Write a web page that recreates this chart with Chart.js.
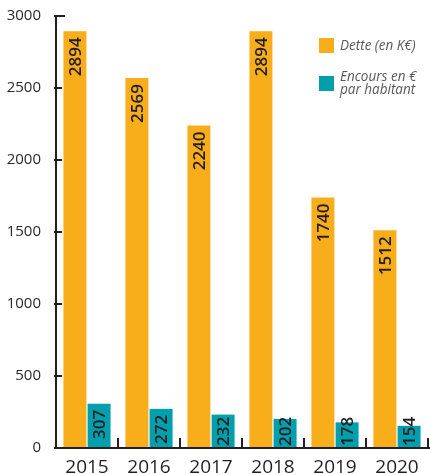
<!DOCTYPE html>
<html>
<head>
<meta charset="utf-8">
<script src="https://cdn.jsdelivr.net/npm/chart.js@4/dist/chart.umd.min.js"></script>
<style>
  html, body { margin: 0; padding: 0; background: #ffffff; }
  #wrap { width: 430px; height: 474px; position: relative; }
</style>
</head>
<body>
<div id="wrap"><canvas id="c" width="430" height="474"></canvas></div>
<script>
const years = ['2015', '2016', '2017', '2018', '2019', '2020'];
const dette = [2894, 2569, 2240, 2894, 1740, 1512];
const encours = [307, 272, 232, 202, 178, 154];
const yTicks = [0, 500, 1000, 1500, 2000, 2500, 3000];
const legendLabels = [['Dette (en K€)'], ['Encours en €', 'par habitant']];

const ORANGE = '#F8AE1A';
const TEAL = '#009FAE';
const INK = '#231f20';

const axesPlugin = {
  id: 'customAxes',
  afterDatasetsDraw(chart) {
    const ctx = chart.ctx;
    const a = chart.chartArea;
    const xs = chart.scales.x;
    const ys = chart.scales.y;
    ctx.save();
    ctx.strokeStyle = INK;
    ctx.lineWidth = 2;
    ctx.beginPath();
    ctx.moveTo(a.left, ys.getPixelForValue(3000) - 1);
    ctx.lineTo(a.left, ys.getPixelForValue(0));
    ctx.stroke();
    yTicks.forEach(v => {
      const y = ys.getPixelForValue(v);
      ctx.beginPath();
      ctx.moveTo(a.left - 2, y);
      ctx.lineTo(a.left + (v === 3000 ? 9 : 6), y);
      ctx.stroke();
    });
    const y0 = ys.getPixelForValue(0);
    ctx.beginPath();
    ctx.moveTo(a.left - 2, y0);
    ctx.lineTo(a.right + 2, y0);
    ctx.stroke();
    for (let i = 0; i < years.length; i++) {
      const c = xs.getPixelForValue(i);
      const next = i < years.length - 1 ? xs.getPixelForValue(i + 1) : c + (c - xs.getPixelForValue(i - 1));
      const bx = Math.round((c + next) / 2);
      ctx.beginPath();
      ctx.moveTo(bx, y0);
      ctx.lineTo(bx, y0 - 10);
      ctx.stroke();
    }
    ctx.restore();

    // value labels
    ctx.save();
    ctx.fillStyle = INK;
    ctx.font = '600 17px "Open Sans", "Liberation Sans", sans-serif';
    ctx.textAlign = 'right';
    ctx.textBaseline = 'middle';
    chart.data.datasets.forEach((ds, di) => {
      const meta = chart.getDatasetMeta(di);
      meta.data.forEach((bar, i) => {
        const txt = String(ds.data[i]);
        const w = ctx.measureText(txt).width;
        let top = bar.y + 6;
        if (top + w > y0 - 2) top = y0 - 2 - w;
        ctx.save();
        ctx.translate(bar.x + 1, top);
        ctx.rotate(-Math.PI / 2);
        ctx.fillText(txt, 0, 0);
        ctx.restore();
      });
    });
    ctx.restore();

    // legend
    ctx.save();
    const lx = a.right - 109;
    const ly = a.top + 22;
    const colors = [ORANGE, TEAL];
    ctx.font = 'italic 15px "Open Sans", "Liberation Sans", sans-serif';
    ctx.textBaseline = 'middle';
    ctx.textAlign = 'left';
    const boxY = [ly, ly + 38];
    legendLabels.forEach((lines, k) => {
      ctx.fillStyle = colors[k];
      ctx.fillRect(lx, boxY[k], 15, 15);
      ctx.fillStyle = '#58595b';
      const startY = k === 0 ? boxY[k] + 8 : boxY[k] + 1;
      lines.forEach((t, j) => {
        ctx.save();
        ctx.translate(lx + 21, startY + j * 12.5);
        ctx.scale(0.9, 1);
        ctx.fillText(t, 0, 0);
        ctx.restore();
      });
    });
    ctx.restore();
  }
};

new Chart(document.getElementById('c'), {
  type: 'bar',
  data: {
    labels: years,
    datasets: [
      { label: legendLabels[0].join(' '), data: dette, backgroundColor: ORANGE, categoryPercentage: 0.78, barPercentage: 0.95 },
      { label: legendLabels[1].join(' '), data: encours, backgroundColor: TEAL, categoryPercentage: 0.78, barPercentage: 0.95 }
    ]
  },
  options: {
    responsive: false,
    animation: false,
    devicePixelRatio: 1,
    layout: { padding: { top: 16, right: 2, left: 0, bottom: 0 } },
    plugins: { legend: { display: false }, tooltip: { enabled: false } },
    scales: {
      x: {
        grid: { display: false },
        border: { display: false },
        ticks: { color: INK, font: { family: '"Open Sans", "Liberation Sans", sans-serif', size: 19 }, padding: 0, maxRotation: 0 },
        afterFit(s) { s.height = 26; }
      },
      y: {
        min: 0, max: 3000,
        grid: { display: false },
        border: { display: false },
        ticks: {
          stepSize: 500, color: '#2b2a2b', padding: 7,
          font: { family: '"Open Sans", "Liberation Sans", sans-serif', size: 15 },
          callback: (v) => String(v)
        },
        afterFit(s) { s.width = 56; }
      }
    }
  },
  plugins: [axesPlugin]
});
</script>
</body>
</html>
